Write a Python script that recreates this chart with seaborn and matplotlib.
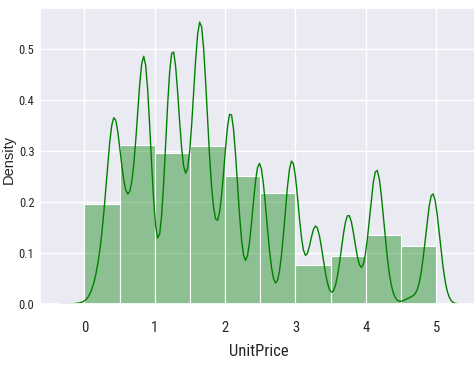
import numpy as np
import pandas as pd
import matplotlib
matplotlib.use("Agg")
import matplotlib.pyplot as plt
from matplotlib import font_manager as fm
import seaborn as sns

# Unit prices (distinct values) and how often each occurs (relative counts)
unit_prices = [0.00, 0.21, 0.29, 0.42, 0.55, 0.65, 0.85, 1.25, 1.45, 1.55,
               1.65, 1.85, 2.08, 2.46, 2.51, 2.95, 3.29, 3.75, 3.95, 4.15,
               4.25, 4.65, 4.95]
price_counts = [0.5, 8, 9.5, 80, 10, 28, 117, 120, 27, 6,
                128, 20, 92, 33, 38, 70, 38, 43, 4, 62,
                5, 3, 54]

x_label = "UnitPrice"
y_label = "Density"
y_ticks = [0.0, 0.1, 0.2, 0.3, 0.4, 0.5]
x_ticks = [0, 1, 2, 3, 4, 5]

df = pd.DataFrame({"UnitPrice": unit_prices, "count": price_counts})

sns.set_theme(style="darkgrid")
plt.rcParams["font.family"] = ["Liberation Sans", "DejaVu Sans"]


def pick_condensed_font():
    prefs = ["Liberation Sans Narrow", "Roboto Condensed", "Open Sans Condensed",
             "Noto Sans Condensed", "DejaVu Sans Condensed", "Arial Narrow"]
    found = {}
    for f in fm.fontManager.ttflist:
        nm = f.name
        st = f.stretch
        cond = ("Narrow" in nm or "Condensed" in nm or
                (isinstance(st, str) and "condensed" in st) or
                (isinstance(st, (int, float)) and st < 500))
        w = f.weight
        regular = w in (400, "normal", "regular", "book", "Regular", "Book")
        if cond and f.style == "normal" and regular:
            key = nm if ("Narrow" in nm or "Condensed" in nm) else nm + " Condensed"
            found.setdefault(key, f.fname)
    for p in prefs:
        if p in found:
            return found[p]
    if found:
        return sorted(found.items())[0][1]
    return None


cond_path = pick_condensed_font()


def tick_fp(size):
    if cond_path:
        return fm.FontProperties(fname=cond_path, size=size)
    return fm.FontProperties(family=["Liberation Sans", "DejaVu Sans"], size=size)


# KDE bandwidth chosen so the kernel std is ~0.1 price units
kde_sigma = 0.1
data_std = float(np.sqrt(np.cov(np.asarray(unit_prices), aweights=np.asarray(price_counts), bias=False)))
bw_factor = kde_sigma / data_std

fig = plt.figure(figsize=(4.74, 3.67), dpi=100)
ax = fig.add_axes([40 / 474, 63 / 367, 437 / 474, 296 / 367])

sns.histplot(data=df, x="UnitPrice", weights="count", bins=10, binrange=(0, 5),
             stat="density", kde=True, color="green", alpha=0.4,
             edgecolor="white", linewidth=0.8,
             kde_kws={"cut": 3, "bw_method": bw_factor},
             line_kws={"linewidth": 1.0}, ax=ax)

ax.set_xticks(x_ticks)
ax.set_xticklabels([str(v) for v in x_ticks])
ax.set_yticks(y_ticks)
ax.set_yticklabels([f"{v:.1f}" for v in y_ticks])
ax.tick_params(axis="x", length=0, pad=12)
ax.tick_params(axis="y", length=0, pad=4)

# shrink tick font until the y tick labels fit the narrow gutter of the reference
size = 14.0
renderer = fig.canvas.get_renderer()
while True:
    fp = tick_fp(size)
    for lab in ax.get_yticklabels() + ax.get_xticklabels():
        lab.set_fontproperties(fp)
    wmax = max(lab.get_window_extent(renderer).width for lab in ax.get_yticklabels())
    if wmax <= 16 or size <= 8:
        break
    size -= 0.5

for lab in ax.get_xticklabels():
    lab.set_fontproperties(tick_fp(size + 1.5))

ax.set_xlabel(x_label, fontproperties=tick_fp(size + 3))
ax.set_ylabel(y_label, fontsize=10.5, family=["Liberation Sans", "DejaVu Sans"])
ax.xaxis.set_label_coords(0.5, -0.135)
ax.yaxis.set_label_coords(-0.055, 0.49)

fig.savefig("out.png", dpi=100)
